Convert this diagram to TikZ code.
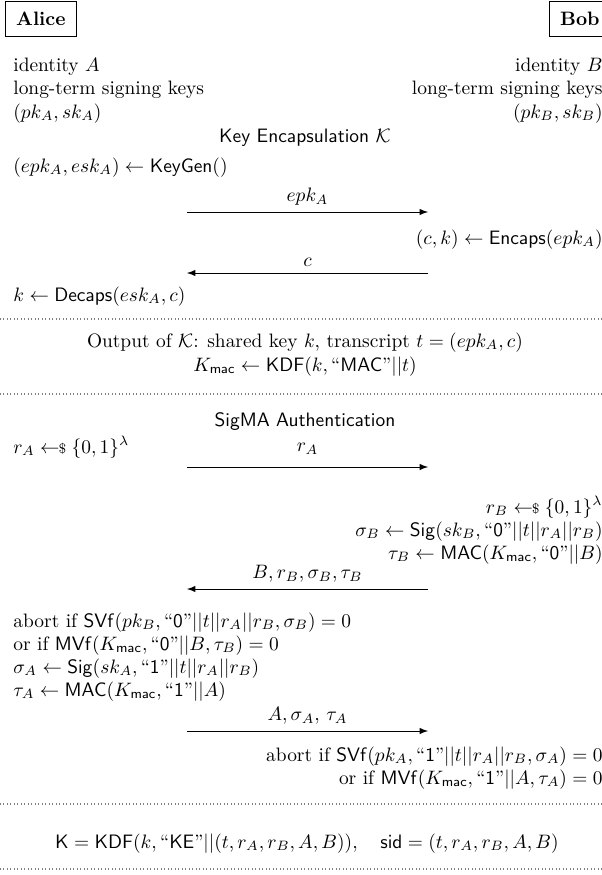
\documentclass[tikz,border=0pt]{standalone}
\usepackage{amsmath}
\usepackage{amssymb}
\usetikzlibrary{arrows}

\newcommand{\qstr}[1]{\text{``}\mathsf{#1}\text{''}}
\newcommand{\sample}{\mathrel{\leftarrow\!\!{\scriptstyle\$}}}
\newcommand{\Kmac}{K_{\mathsf{mac}}}

\begin{document}
\begin{tikzpicture}[
x=0.515pt, y=-0.515pt,
party/.style={draw, line width=0.5pt, inner sep=5.5pt, font=\bfseries},
lefttext/.style={anchor=base west, inner sep=0pt},
righttext/.style={anchor=base east, inner sep=0pt},
midtext/.style={anchor=base, inner sep=0pt},
msg/.style={-latex, line width=0.5pt},
sep/.style={gray, line width=0.6pt, dash pattern=on 0.5pt off 1.3pt}
]

\path[use as bounding box, fill=white] (0,0) rectangle (602,875);

% Parties
\node[party, anchor=west] (alice) at (5,19) {Alice};
\node[party, anchor=west] (bob) at (549,19) {Bob};

\node[lefttext] (idA) at (13,72) {identity $A$};
\node[lefttext] (ltA) at (13,95) {long-term signing keys};
\node[lefttext] (pkA) at (13,118) {$(pk_A, sk_A)$};
\node[righttext] (idB) at (603,72) {identity $B$};
\node[righttext] (ltB) at (603,95) {long-term signing keys};
\node[righttext] (pkB) at (603,118) {$(pk_B, sk_B)$};

% Key encapsulation
\node[midtext] (kemtitle) at (305,142) {\textsf{Key Encapsulation} $\mathcal{K}$};
\node[lefttext] (keygen) at (13,172) {$(epk_A, esk_A) \leftarrow \mathsf{KeyGen}()$};
\coordinate (m1l) at (187,212);
\coordinate (m1r) at (428,212);
\draw[msg] (m1l) -- node[above] (lbl1) {$epk_A$} (m1r);
\node[righttext] (encaps) at (603,244) {$(c,k) \leftarrow \mathsf{Encaps}(epk_A)$};
\coordinate (m2l) at (187,273);
\coordinate (m2r) at (428,273);
\draw[msg] (m2r) -- node[above] (lbl2) {$c$} (m2l);
\node[lefttext] (decaps) at (13,301) {$k \leftarrow \mathsf{Decaps}(esk_A, c)$};

\draw[sep] (0,319) -- (602,319);
\node[midtext] (kemout) at (305,347) {Output of $\mathcal{K}$: shared key $k$, transcript $t = (epk_A, c)$};
\node[midtext] (kmac) at (305,371) {$\Kmac \leftarrow \mathsf{KDF}(k, \qstr{MAC}||t)$};
\draw[sep] (0,394) -- (602,394);

% SigMA
\node[midtext] (sigtitle) at (305,426) {\textsf{SigMA Authentication}};
\node[lefttext] (rA) at (13,453) {$r_A \sample \{0,1\}^\lambda$};
\coordinate (m3l) at (187,467);
\coordinate (m3r) at (428,467);
\draw[msg] (m3l) -- node[above=3pt] (lbl3) {$r_A$} (m3r);
\node[righttext] (rB) at (603,513) {$r_B \sample \{0,1\}^\lambda$};
\node[righttext] (sigB) at (603,536) {$\sigma_B \leftarrow \mathsf{Sig}(sk_B, \qstr{0}||t||r_A||r_B)$};
\node[righttext] (macB) at (603,559) {$\tau_B \leftarrow \mathsf{MAC}(\Kmac, \qstr{0}||B)$};
\coordinate (m4l) at (187,589);
\coordinate (m4r) at (428,589);
\draw[msg] (m4r) -- node[above] (lbl4) {$B, r_B, \sigma_B, \tau_B$} (m4l);
\node[lefttext] (vfyB1) at (13,627) {abort if $\mathsf{SVf}(pk_B, \qstr{0}||t||r_A||r_B, \sigma_B) = 0$};
\node[lefttext] (vfyB2) at (13,650) {or if $\mathsf{MVf}(\Kmac, \qstr{0}||B, \tau_B) = 0$};
\node[lefttext] (sigA) at (13,673) {$\sigma_A \leftarrow \mathsf{Sig}(sk_A, \qstr{1}||t||r_A||r_B)$};
\node[lefttext] (macA) at (13,696) {$\tau_A \leftarrow \mathsf{MAC}(\Kmac, \qstr{1}||A)$};
\coordinate (m5l) at (187,731);
\coordinate (m5r) at (428,731);
\draw[msg] (m5l) -- node[above] (lbl5) {$A, \sigma_A,\, \tau_A$} (m5r);
\node[righttext] (vfyA1) at (603,761) {abort if $\mathsf{SVf}(pk_A, \qstr{1}||t||r_A||r_B, \sigma_A) = 0$};
\node[righttext] (vfyA2) at (603,784) {or if $\mathsf{MVf}(\Kmac, \qstr{1}||A, \tau_A) = 0$};

\draw[sep] (0,804) -- (602,804);
\node[midtext] (final) at (307,848) {$\mathsf{K} = \mathsf{KDF}(k, \qstr{KE}||(t, r_A, r_B, A, B)), \quad \mathsf{sid} = (t, r_A, r_B, A, B)$};
\draw[sep] (0,869) -- (602,869);

\end{tikzpicture}
\end{document}
